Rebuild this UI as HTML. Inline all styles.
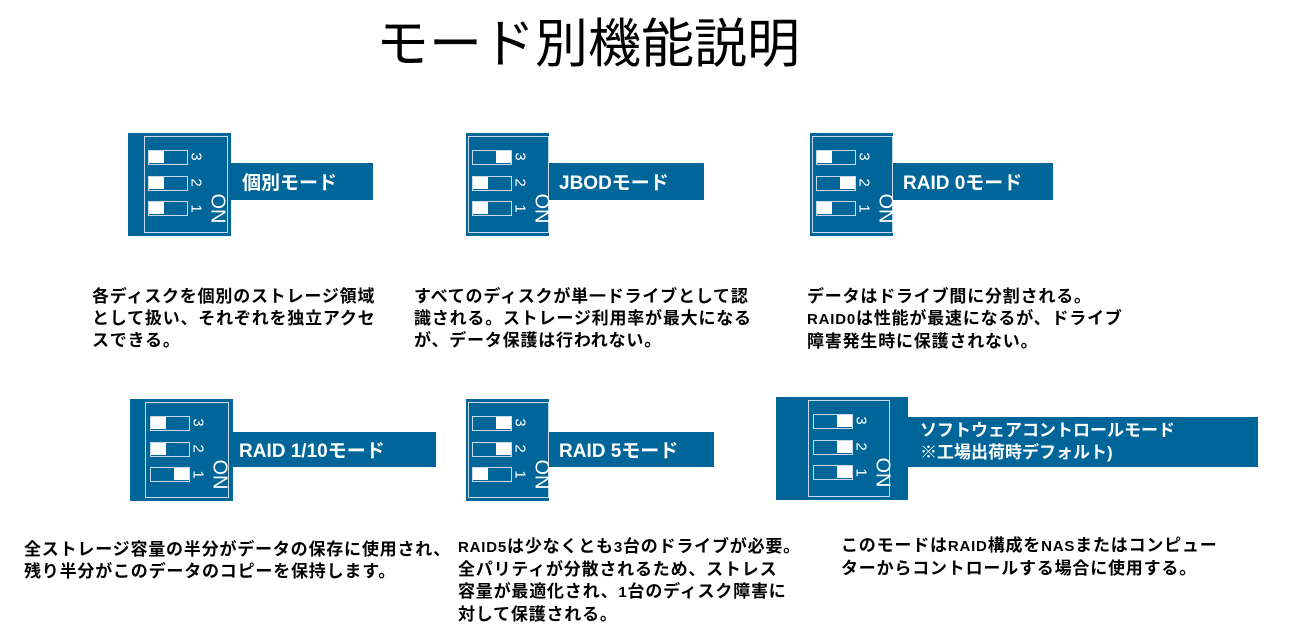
<!DOCTYPE html>
<html><head><meta charset="utf-8"><style>
body{margin:0;width:1297px;height:631px;background:#fff;position:relative;overflow:hidden;font-family:"Liberation Sans","Noto Sans CJK JP",sans-serif;}
.a{position:absolute}
.box{position:absolute;background:#006699}
.in{position:absolute;border:1.5px solid #c9dbe8;box-sizing:border-box}
.sw{position:absolute;width:40px;height:15px;border:1.5px solid #c9dbe8;box-sizing:border-box}
.sw i{position:absolute;top:0;width:15px;height:12px;background:#fff}
.num{position:absolute;color:#fff;font-size:15px;transform:rotate(90deg);transform-origin:center}
.on{position:absolute;color:#fff;font-size:20px;transform:rotate(90deg);}
.bar{position:absolute;background:#006699;color:#fff;font-weight:bold;font-size:19px;box-sizing:border-box;white-space:nowrap}
.t{position:absolute;font-weight:bold;font-size:17px;line-height:22px;letter-spacing:0.8px;white-space:nowrap;color:#000}
</style></head><body>
<div class="a" style="left:376px;top:2px;font-size:53px;white-space:nowrap">モード別機能説明</div>

<div class="box" style="left:128px;top:133px;width:103px;height:103px">
 <div class="in" style="left:16px;top:3px;width:84px;height:97px"></div>
 <div class="sw" style="left:20px;top:17px"><i style="left:0"></i></div>
 <div class="sw" style="left:20px;top:43px"><i style="left:0"></i></div>
 <div class="sw" style="left:20px;top:68px"><i style="left:0"></i></div>
 <div class="num" style="left:64px;top:15px">3</div><div class="num" style="left:64px;top:41px">2</div><div class="num" style="left:64px;top:67px">1</div>
 <div class="on" style="left:74px;top:64px">ON</div>
</div>
<div class="bar" style="left:231px;top:163px;width:142px;height:37px;padding:5px 0 0 11px">個別モード</div>

<div class="box" style="left:466px;top:133px;width:83px;height:103px">
 <div class="in" style="left:2px;top:3px;width:81px;height:97px"></div>
 <div class="sw" style="left:6px;top:17px"><i style="right:0"></i></div>
 <div class="sw" style="left:6px;top:43px"><i style="left:0"></i></div>
 <div class="sw" style="left:6px;top:68px"><i style="left:0"></i></div>
 <div class="num" style="left:50px;top:15px">3</div><div class="num" style="left:50px;top:41px">2</div><div class="num" style="left:50px;top:67px">1</div>
 <div class="on" style="left:60px;top:64px">ON</div>
</div>
<div class="bar" style="left:549px;top:163px;width:155px;height:37px;padding:5px 0 0 10px">JBODモード</div>

<div class="box" style="left:810px;top:133px;width:83px;height:103px">
 <div class="in" style="left:2px;top:3px;width:81px;height:97px"></div>
 <div class="sw" style="left:6px;top:17px"><i style="left:0"></i></div>
 <div class="sw" style="left:6px;top:43px"><i style="right:0"></i></div>
 <div class="sw" style="left:6px;top:68px"><i style="left:0"></i></div>
 <div class="num" style="left:50px;top:15px">3</div><div class="num" style="left:50px;top:41px">2</div><div class="num" style="left:50px;top:67px">1</div>
 <div class="on" style="left:60px;top:64px">ON</div>
</div>
<div class="bar" style="left:893px;top:163px;width:160px;height:37px;padding:5px 0 0 10px">RAID 0モード</div>

<div class="box" style="left:130px;top:399px;width:103px;height:102px">
 <div class="in" style="left:15px;top:3px;width:84px;height:96px"></div>
 <div class="sw" style="left:20px;top:17px"><i style="left:0"></i></div>
 <div class="sw" style="left:20px;top:43px"><i style="left:0"></i></div>
 <div class="sw" style="left:20px;top:68px"><i style="right:0"></i></div>
 <div class="num" style="left:64px;top:15px">3</div><div class="num" style="left:64px;top:41px">2</div><div class="num" style="left:64px;top:67px">1</div>
 <div class="on" style="left:74px;top:64px">ON</div>
</div>
<div class="bar" style="left:233px;top:432px;width:203px;height:35px;padding:4px 0 0 6px">RAID 1/10モード</div>

<div class="box" style="left:466px;top:399px;width:83px;height:102px">
 <div class="in" style="left:2px;top:3px;width:81px;height:96px"></div>
 <div class="sw" style="left:6px;top:17px"><i style="right:0"></i></div>
 <div class="sw" style="left:6px;top:43px"><i style="right:0"></i></div>
 <div class="sw" style="left:6px;top:68px"><i style="left:0"></i></div>
 <div class="num" style="left:50px;top:15px">3</div><div class="num" style="left:50px;top:41px">2</div><div class="num" style="left:50px;top:67px">1</div>
 <div class="on" style="left:60px;top:64px">ON</div>
</div>
<div class="bar" style="left:549px;top:432px;width:165px;height:35px;padding:4px 0 0 10px">RAID 5モード</div>

<div class="box" style="left:776px;top:397px;width:132px;height:103px">
 <div class="in" style="left:32px;top:3px;width:82px;height:97px"></div>
 <div class="sw" style="left:37px;top:17px"><i style="right:0"></i></div>
 <div class="sw" style="left:37px;top:43px"><i style="right:0"></i></div>
 <div class="sw" style="left:37px;top:68px"><i style="right:0"></i></div>
 <div class="num" style="left:81px;top:15px">3</div><div class="num" style="left:81px;top:41px">2</div><div class="num" style="left:81px;top:67px">1</div>
 <div class="on" style="left:91px;top:64px">ON</div>
</div>
<div class="bar" style="left:908px;top:417px;width:350px;height:50px;padding:3px 0 0 12px;font-size:17px;line-height:22px">ソフトウェアコントロールモード<br>※工場出荷時デフォルト)</div>

<div class="t" style="left:92px;top:286px">各ディスクを個別のストレージ領域<br>として扱い、それぞれを独立アクセ<br>スできる。</div>
<div class="t" style="left:414px;top:286px">すべてのディスクが単一ドライブとして認<br>識される。ストレージ利用率が最大になる<br>が、データ保護は行われない。</div>
<div class="t" style="left:807px;top:286px">データはドライブ間に分割される。<br><span style="font-size:15px">RAID0</span>は性能が最速になるが、ドライブ<br>障害発生時に保護されない。</div>
<div class="t" style="left:24px;top:539px">全ストレージ容量の半分がデータの保存に使用され、<br>残り半分がこのデータのコピーを保持します。</div>
<div class="t" style="left:458px;top:536px"><span style="font-size:15px">RAID5</span>は少なくとも<span style="font-size:15px">3</span>台のドライブが必要。<br>全パリティが分散されるため、ストレス<br>容量が最適化され、<span style="font-size:15px">1</span>台のディスク障害に<br>対して保護される。</div>
<div class="t" style="left:841px;top:535px">このモードは<span style="font-size:15px">RAID</span>構成を<span style="font-size:15px">NAS</span>またはコンピュー<br>ターからコントロールする場合に使用する。</div>
</body></html>
